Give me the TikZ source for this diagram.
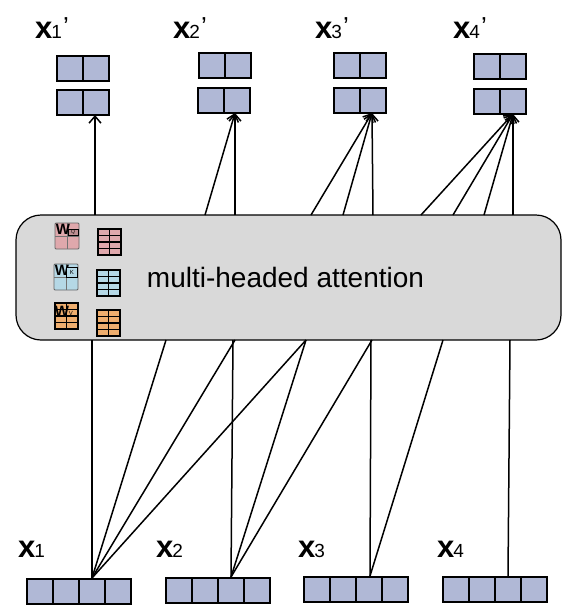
\documentclass[tikz,border=0pt]{standalone}
\usepackage{fontspec}
\setmainfont{Liberation Sans}
\usetikzlibrary{arrows.meta}
\definecolor{cellblue}{HTML}{B0B8D6}
\definecolor{boxgray}{HTML}{D9D9D9}
\definecolor{pinkc}{HTML}{DFA8AC}
\definecolor{bluec}{HTML}{B5D8E6}
\definecolor{orangec}{HTML}{EFAE6E}
\newcommand{\vect}[4]{% name, left x, top y, cells
  \node[vecbox,minimum width=#4*26pt,minimum height=25pt] (#1) at (#2+#4*13,#3+12.5) {};
  \foreach \ii in {1,...,#4}{\ifnum\ii<#4 \draw[line width=1.6pt] (#2+\ii*26,#3) -- (#2+\ii*26,#3+25);\fi}
}
\newcommand{\tabl}[4]{% name, left x, top y, colour
  \node[draw=black,line width=1.9pt,fill=#4,minimum width=23pt,minimum height=26pt,inner sep=0pt] (#1) at (#2+11.5,#3+13) {};
  \draw[line width=1.7pt] (#2+11.5,#3) -- (#2+11.5,#3+26);
  \foreach \ii in {1,2,3}{\draw[line width=1.7pt] (#2,#3+\ii*6.5) -- (#2+23,#3+\ii*6.5);}
}
\newcommand{\wtab}[4]{% name, left x, top y, colour
  \node[draw=black!60,line width=.9pt,fill=#4,minimum width=24pt,minimum height=26pt,inner sep=0pt,rounded corners=1pt] (#1) at (#2+12,#3+13) {};
  \draw[black!55,line width=.8pt] (#2+12,#3) -- (#2+12,#3+26) (#2,#3+13) -- (#2+24,#3+13);
}
\tikzset{
  x=1pt,y=-1pt,
  vecbox/.style={draw=black,line width=1.6pt,fill=cellblue,inner sep=0pt,outer sep=0pt},
  link/.style={draw=black,line width=1.5pt},
  arr/.style={link,-{Straight Barb[length=7pt,width=12pt]}},
  lab/.style={inner sep=0pt,anchor=base west,font=\fontsize{31}{32}\selectfont\bfseries},
}
\newcommand{\sublab}[2]{x\kern-1pt{\fontsize{19}{20}\selectfont\mdseries #1}\kern1pt{\fontsize{26}{26}\selectfont\mdseries\raisebox{3pt}{#2}}}
\begin{document}
\begin{tikzpicture}
\useasboundingbox (0,0) rectangle (562,606);
% top vectors
\vect{aa}{57}{56}{2}\vect{ab}{57}{90}{2}
\vect{ba}{199}{53}{2}\vect{bb}{198}{88}{2}
\vect{ca}{334}{53}{2}\vect{cb}{334}{88}{2}
\vect{da}{474}{54}{2}\vect{db}{474}{89}{2}
% bottom vectors
\vect{p}{27}{579}{4}\vect{q}{166}{578}{4}\vect{r}{304}{577}{4}\vect{s}{443}{577}{4}
% attention box
\node[draw=black,line width=1.2pt,fill=boxgray,rounded corners=25pt,minimum width=545pt,minimum height=125pt,inner sep=0pt,outer sep=0pt] (att) at (288.5,277.5) {};
\node[inner sep=0pt,font=\fontsize{28}{30}\selectfont] (title) at (285.5,277) {multi-headed attention};
% named ends
\foreach \n/\x in {t1/95,t2/205,t3/235,t4/311,t5/343,t6/373,t7/421,t8/453,t9/484,t10/513}
  \coordinate (\n) at (\x,215);
\foreach \n/\x in {b1/92,b2/166,b3/235,b4/306,b5/233,b6/372,b7/443,b8/371,b9/510}
  \coordinate (\n) at (\x,340);
\coordinate (ha) at (95,115);\coordinate (hb) at (235,113);\coordinate (hc) at (372,113);\coordinate (hd) at (513,114);
\coordinate (fa) at (92,578);\coordinate (fb) at (231,577);\coordinate (fc) at (370,576);\coordinate (fd) at (508,576);
\draw[arr] (t1) -- (ha);
\foreach \n in {t2,t3}\draw[arr] (\n) -- (hb);
\foreach \n in {t4,t5,t6}\draw[arr] (\n) -- (hc);
\foreach \n in {t7,t8,t9,t10}\draw[arr] (\n) -- (hd);
\foreach \n in {b1,b2,b3,b4}\draw[link] (fa) -- (\n);
\foreach \n in {b5,b4,b6}\draw[link] (fb) -- (\n);
\foreach \n in {b8,b7}\draw[link] (fc) -- (\n);
\draw[link] (fd) -- (b9);
% small tables
\wtab{wq}{55}{223}{pinkc}\tabl{tq}{98}{229}{pinkc}
\wtab{wk}{54}{264}{bluec}\tabl{tk}{97}{270}{bluec}
\tabl{wv}{55}{303}{orangec}\tabl{tv}{97}{310}{orangec}
\node[inner sep=0pt,font=\fontsize{15}{15}\selectfont\bfseries] (wq1) at (63,229) {W};
\node[draw=black,line width=1pt,fill=pinkc!85!black,inner sep=0pt,minimum width=10pt,minimum height=6pt,font=\fontsize{5}{5}\selectfont] (wq2) at (73,232) {Q};
\node[inner sep=0pt,font=\fontsize{15}{15}\selectfont\bfseries] (wk1) at (62,270) {W};
\node[draw=black,line width=1pt,fill=bluec,inner sep=0pt,minimum width=11pt,minimum height=10pt,font=\fontsize{6}{6}\selectfont] (wk2) at (72,272) {K};
\node[inner sep=0pt,font=\fontsize{15}{15}\selectfont\bfseries] (wv1) at (62,311) {W};
\node[inner sep=0pt,font=\fontsize{6}{6}\selectfont] (wv2) at (71,313) {V};
% labels
\node[lab] (l1) at (35,38) {\sublab{1}{'}};
\node[lab] (l2) at (173,38) {\sublab{2}{'}};
\node[lab] (l3) at (315,38) {\sublab{3}{'}};
\node[lab] (l4) at (453,38) {\sublab{4}{'}};
\node[lab] (m1) at (18,557) {\sublab{1}{}};
\node[lab] (m2) at (156,557) {\sublab{2}{}};
\node[lab] (m3) at (298,557) {\sublab{3}{}};
\node[lab] (m4) at (437,557) {\sublab{4}{}};
\end{tikzpicture}
\end{document}
